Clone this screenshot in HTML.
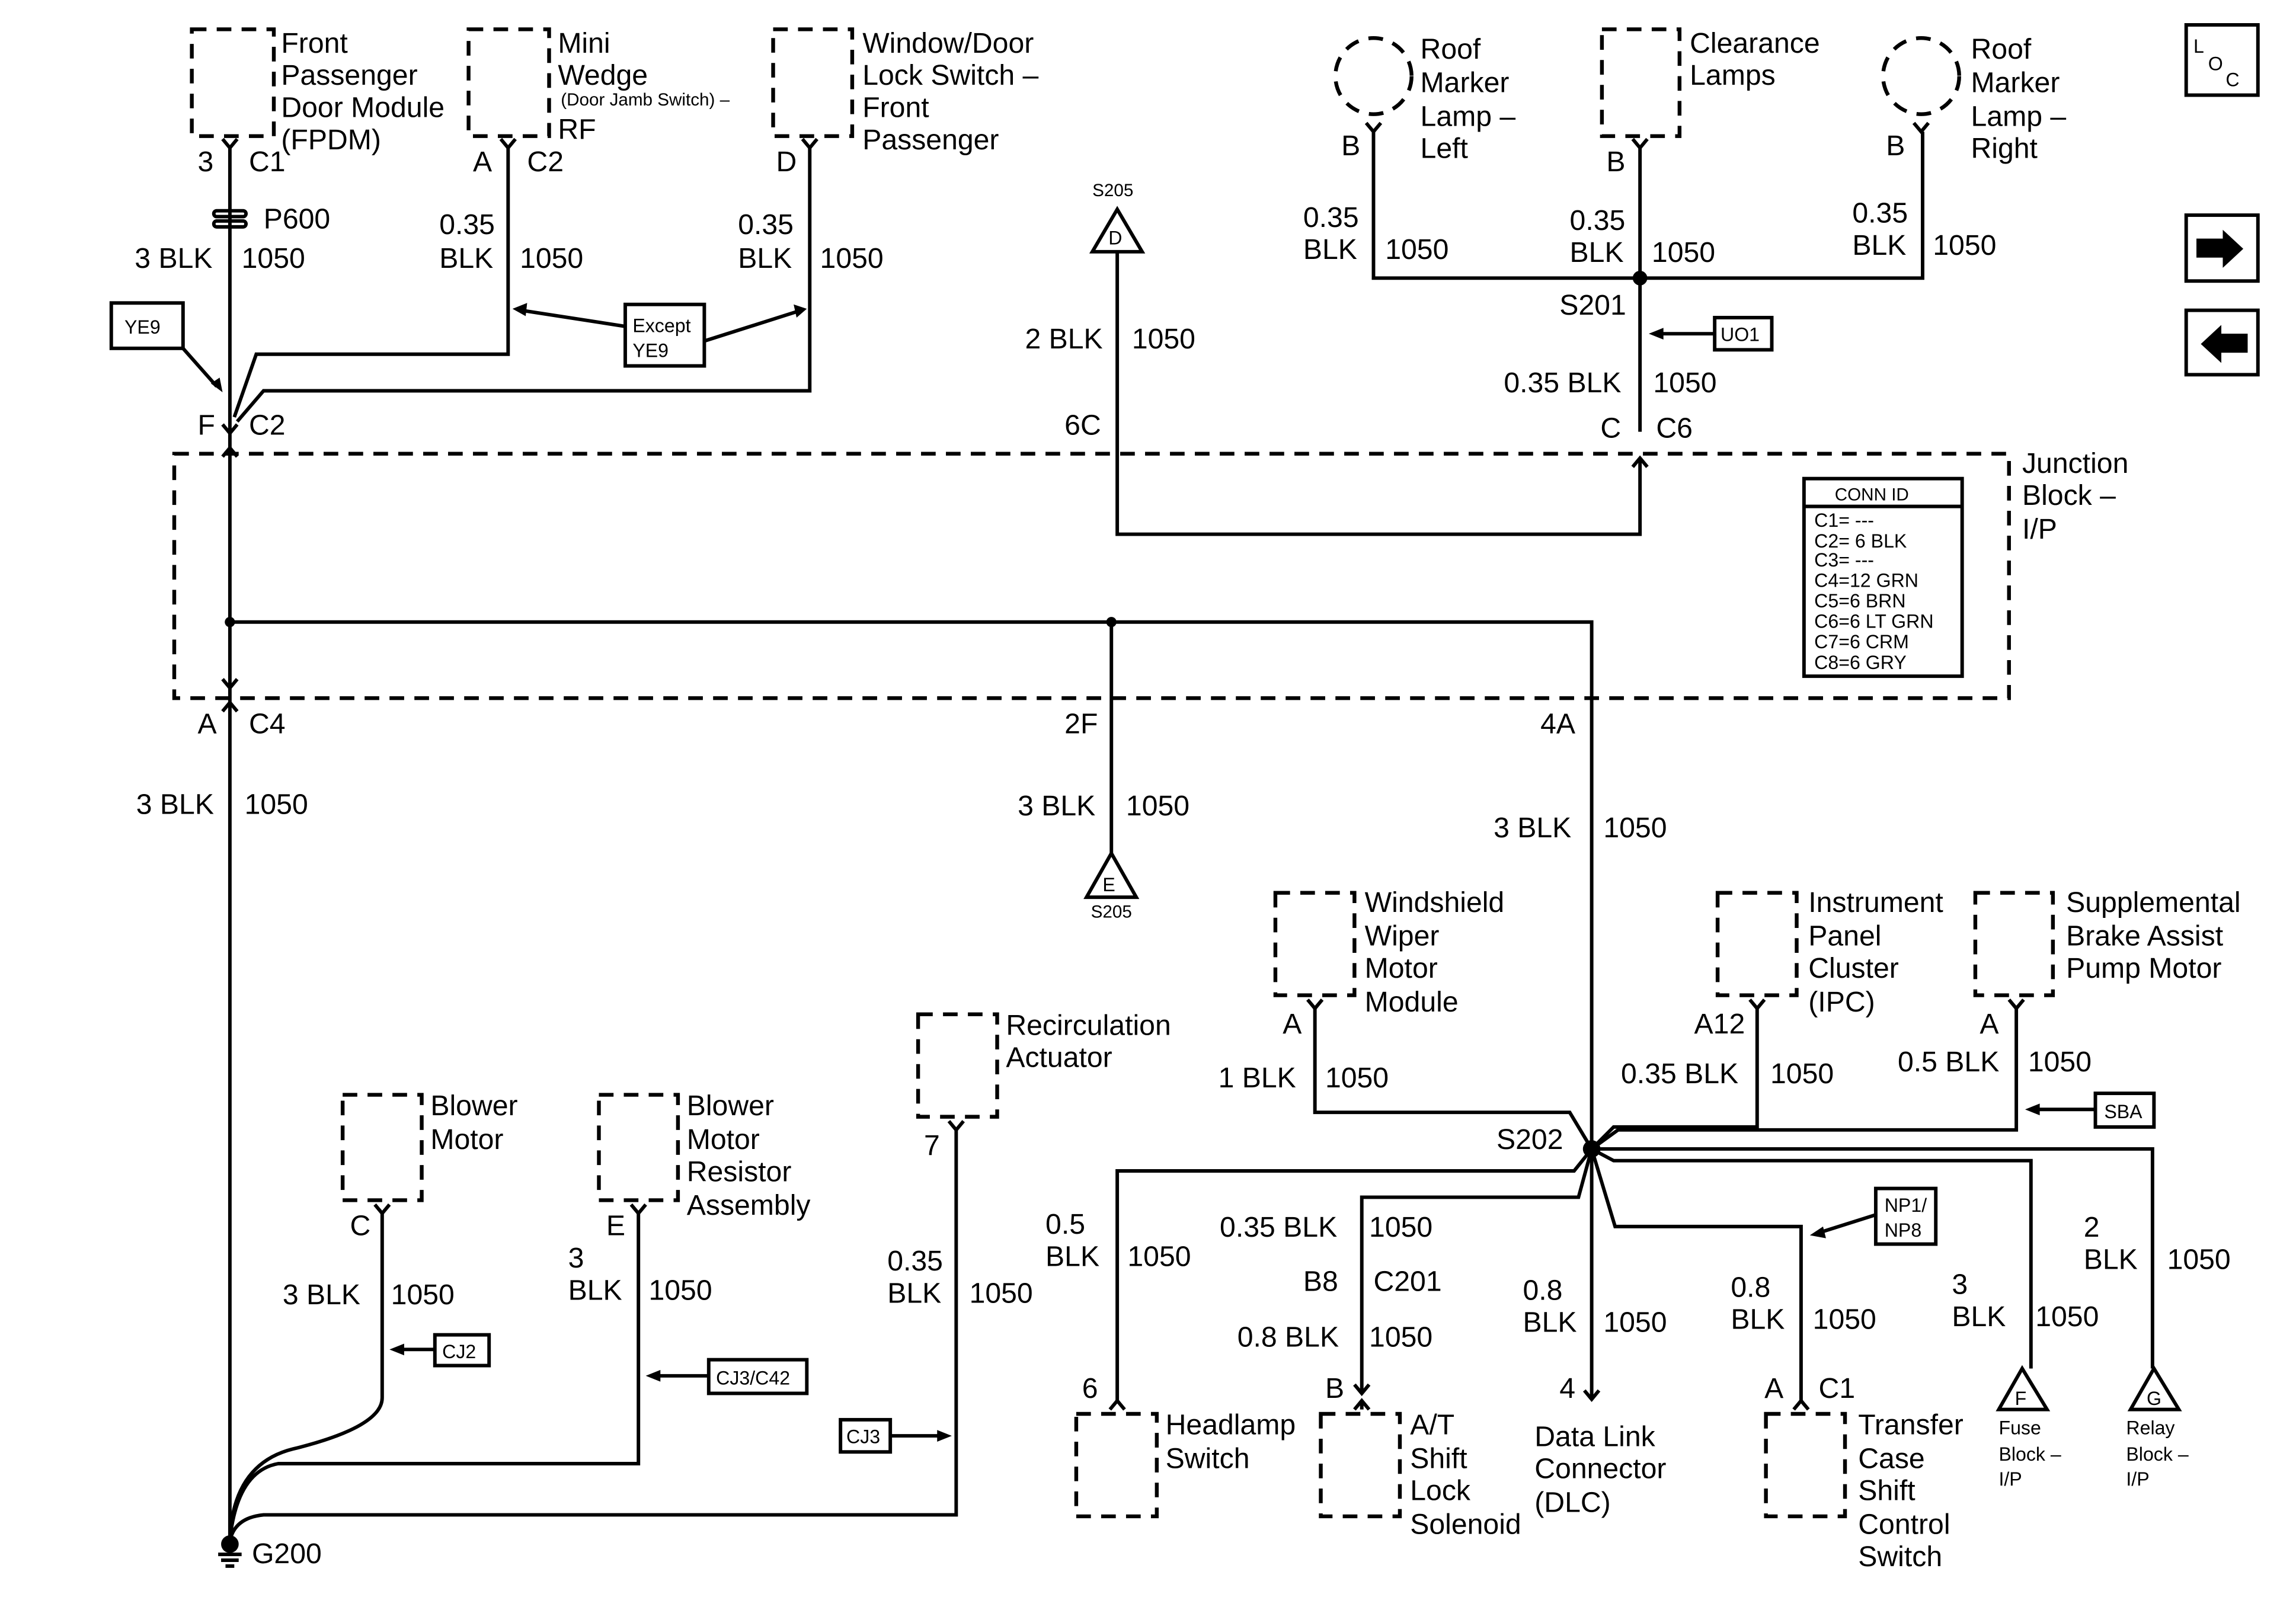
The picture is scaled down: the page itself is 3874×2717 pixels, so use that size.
<!DOCTYPE html>
<html><head><meta charset="utf-8"><style>
html,body{margin:0;padding:0;background:#fff;}
svg{display:block;}
text{font-family:"Liberation Sans",Arial,sans-serif;font-size:19.5px;fill:#000;}
.s{font-size:13px;}
.xs{font-size:12px;}
</style></head><body>
<svg width="3874" height="2717" viewBox="0 0 1568 1100" preserveAspectRatio="none" xmlns="http://www.w3.org/2000/svg">
<rect width="1600" height="1120" fill="#fff"/>
<g fill="none" stroke="#000" stroke-width="2.4">
<g stroke-dasharray="10,7" stroke-width="2.6">
<rect x="131" y="20" width="56" height="73"/>
<rect x="320" y="20" width="55" height="73"/>
<rect x="528" y="20" width="54" height="73"/>
<circle cx="938" cy="52" r="26"/>
<rect x="1094" y="20" width="53" height="73"/>
<circle cx="1312" cy="52" r="26"/>
<rect x="119" y="310" width="1253" height="167"/>
<rect x="871" y="610" width="54" height="70"/>
<rect x="1173" y="610" width="54" height="70"/>
<rect x="1349" y="610" width="53" height="70"/>
<rect x="234" y="748" width="54" height="72"/>
<rect x="409" y="748" width="54" height="72"/>
<rect x="627" y="693" width="54" height="70"/>
<rect x="735" y="966" width="55" height="70"/>
<rect x="902" y="966" width="54" height="70"/>
<rect x="1206" y="966" width="54" height="70"/>
</g>
<g>
<path d="M152,95 L157,101 L162,95"/><path d="M342,95 L347,101 L352,95"/><path d="M548,95 L553,101 L558,95"/>
<path d="M933,84 L938,90 L943,84"/><path d="M1115,95 L1120,101 L1125,95"/><path d="M1307,84 L1312,90 L1317,84"/>
<path d="M893,683 L898,689 L903,683"/><path d="M1195,683 L1200,689 L1205,683"/><path d="M1372,683 L1377,689 L1382,683"/>
<path d="M256,823 L261,829 L266,823"/><path d="M431,823 L436,829 L441,823"/><path d="M648,766 L653,772 L658,766"/>
<path d="M152,290 L157,296 L162,290"/><path d="M152,312 L157,306 L162,312"/>
<path d="M1115,319 L1120,313 L1125,319"/>
<path d="M152,464 L157,470 L162,464"/><path d="M152,486 L157,480 L162,486"/>
<path d="M758,963 L763,957 L768,963"/><path d="M925,963 L930,957 L935,963"/><path d="M925,946 L930,952 L935,946"/>
<path d="M1225,963 L1230,957 L1235,963"/><path d="M1082,950 L1087,956 L1092,950"/>
</g>
<path d="M157,101 V1055"/>
<path d="M347,101 V242 H175 L160,285"/>
<path d="M553,101 V267 H180 L162,288"/>
<path d="M763,172 V365 H1120 V313"/>
<path d="M938,90 V190 H1313 V90"/>
<path d="M1120,101 V295"/>
<path d="M157,425 H1087 V785"/>
<path d="M759,425 V583"/>
<path d="M898,689 V760 H1072 L1087,785"/>
<path d="M1200,689 V770 H1102 L1087,785"/>
<path d="M1377,689 V772 H1105 L1087,785"/>
<path d="M1087,785 L1075,800 H763 V957"/>
<path d="M1087,785 L1078,818 H930 V952"/>
<path d="M930,957 V963"/>
<path d="M1087,785 V956"/>
<path d="M1087,785 L1103,838 H1230 V957"/>
<path d="M1087,785 L1102,793 H1387 V935"/>
<path d="M1087,785 H1470 V935"/>
<path d="M261,829 V955 Q261,975 200,990 Q160,1000 157,1050"/>
<path d="M436,829 V1000 H190 Q162,1005 157,1052"/>
<path d="M653,772 V1035 H180 Q160,1037 157,1053"/>
<rect x="146" y="144" width="22" height="4" rx="2"/><rect x="146" y="151" width="22" height="4" rx="2"/>
<path d="M763,143 L746,172 H780 Z"/>
<path d="M759,583 L742,613 H776 Z"/>
<path d="M1381,935 L1365,963 H1398 Z"/>
<path d="M1471,935 L1455,963 H1488 Z"/>
<rect x="76" y="207" width="49" height="31"/>
<rect x="427" y="208" width="54" height="42"/>
<rect x="1171" y="217" width="39" height="22"/>
<rect x="1431" y="747" width="40" height="23"/>
<rect x="1281" y="812" width="41" height="38"/>
<rect x="297" y="912" width="37" height="21"/>
<rect x="484" y="929" width="67" height="23"/>
<rect x="574" y="970" width="34" height="22"/>
<rect x="1232" y="327" width="108" height="135"/><path d="M1232,346 H1340"/>
<path d="M125,238 L148,264"/>
<path d="M427,223 L356,212"/><path d="M481,233 L544,213"/>
<path d="M1171,228 H1132"/>
<path d="M1431,758 H1390"/>
<path d="M1281,830 L1243,842"/>
<path d="M297,922 H272"/>
<path d="M484,940 H448"/>
<path d="M608,981 H643"/>
<rect x="1493" y="17" width="49" height="48"/>
<rect x="1493" y="147" width="49" height="45"/>
<rect x="1493" y="212" width="49" height="44"/>
<path d="M149,1062 H165 M151,1066 H163 M154,1070 H160"/>
</g>
<g fill="#000">
<path d="M152,268 L144,262 L150,258 Z"/>
<path d="M350,211 L360,207 L359,216 Z"/>
<path d="M551,211 L542,208 L544,217 Z"/>
<path d="M1126,228 L1136,224 L1136,232 Z"/>
<path d="M1383,758 L1393,754 L1393,762 Z"/>
<path d="M1236,844 L1245,838 L1247,846 Z"/>
<path d="M266,922 L276,918 L276,926 Z"/>
<path d="M441,940 L451,936 L451,944 Z"/>
<path d="M650,981 L640,977 L640,985 Z"/>
<circle cx="1120" cy="190" r="5"/><circle cx="157" cy="425" r="3.5"/><circle cx="759" cy="425" r="3.5"/>
<circle cx="1087" cy="785" r="6"/><circle cx="157" cy="1055" r="6"/>
<path d="M1500,163 H1518 V157 L1532,170 L1518,183 V176 H1500 Z"/>
<path d="M1535,228 H1517 V222 L1503,235 L1517,248 V241 H1535 Z"/>
</g>
<text x="192" y="36">Front</text><text x="192" y="58">Passenger</text><text x="192" y="80">Door Module</text><text x="192" y="102">(FPDM)</text>
<text x="135" y="117">3</text><text x="170" y="117">C1</text>
<text x="180" y="156">P600</text>
<text x="92" y="183">3 BLK</text><text x="165" y="183">1050</text>
<text x="85" y="228" class="s">YE9</text>
<text x="135" y="297">F</text><text x="170" y="297">C2</text>
<text x="381" y="36">Mini</text><text x="381" y="58">Wedge</text><text x="383" y="72" class="xs">(Door Jamb Switch) –</text><text x="381" y="95">RF</text>
<text x="323" y="117">A</text><text x="360" y="117">C2</text>
<text x="300" y="160">0.35</text><text x="300" y="183">BLK</text><text x="355" y="183">1050</text>
<text x="589" y="36">Window/Door</text><text x="589" y="58">Lock Switch –</text><text x="589" y="80">Front</text><text x="589" y="102">Passenger</text>
<text x="530" y="117">D</text>
<text x="504" y="160">0.35</text><text x="504" y="183">BLK</text><text x="560" y="183">1050</text>
<text x="432" y="227" class="s">Except</text><text x="432" y="244" class="s">YE9</text>
<text x="746" y="134" class="xs">S205</text><text x="757" y="167" class="s">D</text>
<text x="700" y="238">2 BLK</text><text x="773" y="238">1050</text>
<text x="727" y="297">6C</text>
<text x="970" y="40">Roof</text><text x="970" y="63">Marker</text><text x="970" y="86">Lamp –</text><text x="970" y="108">Left</text>
<text x="916" y="106">B</text>
<text x="890" y="155">0.35</text><text x="890" y="177">BLK</text><text x="946" y="177">1050</text>
<text x="1154" y="36">Clearance</text><text x="1154" y="58">Lamps</text>
<text x="1097" y="117">B</text>
<text x="1072" y="157">0.35</text><text x="1072" y="179">BLK</text><text x="1128" y="179">1050</text>
<text x="1065" y="215">S201</text>
<text x="1175" y="233" class="s">UO1</text>
<text x="1346" y="40">Roof</text><text x="1346" y="63">Marker</text><text x="1346" y="86">Lamp –</text><text x="1346" y="108">Right</text>
<text x="1288" y="106">B</text>
<text x="1265" y="152">0.35</text><text x="1265" y="174">BLK</text><text x="1320" y="174">1050</text>
<text x="1027" y="268">0.35 BLK</text><text x="1129" y="268">1050</text>
<text x="1093" y="299">C</text><text x="1131" y="299">C6</text>
<text x="1381" y="323">Junction</text><text x="1381" y="345">Block –</text><text x="1381" y="368">I/P</text>
<text x="1253" y="342" class="xs">CONN ID</text>
<text x="1239" y="360" class="s">C1= ---</text><text x="1239" y="374" class="s">C2= 6 BLK</text><text x="1239" y="387" class="s">C3= ---</text><text x="1239" y="401" class="s">C4=12 GRN</text><text x="1239" y="415" class="s">C5=6 BRN</text><text x="1239" y="429" class="s">C6=6 LT GRN</text><text x="1239" y="443" class="s">C7=6 CRM</text><text x="1239" y="457" class="s">C8=6 GRY</text>
<text x="135" y="501">A</text><text x="170" y="501">C4</text><text x="727" y="501">2F</text><text x="1052" y="501">4A</text>
<text x="93" y="556">3 BLK</text><text x="167" y="556">1050</text>
<text x="695" y="557">3 BLK</text><text x="769" y="557">1050</text>
<text x="753" y="609" class="s">E</text><text x="745" y="627" class="xs">S205</text>
<text x="1020" y="572">3 BLK</text><text x="1095" y="572">1050</text>
<text x="932" y="623">Windshield</text><text x="932" y="646">Wiper</text><text x="932" y="668">Motor</text><text x="932" y="691">Module</text>
<text x="876" y="706">A</text><text x="832" y="743">1 BLK</text><text x="905" y="743">1050</text>
<text x="1235" y="623">Instrument</text><text x="1235" y="646">Panel</text><text x="1235" y="668">Cluster</text><text x="1235" y="691">(IPC)</text>
<text x="1157" y="706">A12</text><text x="1107" y="740">0.35 BLK</text><text x="1209" y="740">1050</text>
<text x="1411" y="623">Supplemental</text><text x="1411" y="646">Brake Assist</text><text x="1411" y="668">Pump Motor</text>
<text x="1352" y="706">A</text><text x="1296" y="732">0.5 BLK</text><text x="1385" y="732">1050</text>
<text x="1437" y="764" class="s">SBA</text>
<text x="1022" y="785">S202</text>
<text x="714" y="843">0.5</text><text x="714" y="865">BLK</text><text x="770" y="865">1050</text>
<text x="833" y="845">0.35 BLK</text><text x="935" y="845">1050</text>
<text x="890" y="882">B8</text><text x="938" y="882">C201</text>
<text x="845" y="920">0.8 BLK</text><text x="935" y="920">1050</text>
<text x="1040" y="888">0.8</text><text x="1040" y="910">BLK</text><text x="1095" y="910">1050</text>
<text x="1065" y="955">4</text>
<text x="1182" y="886">0.8</text><text x="1182" y="908">BLK</text><text x="1238" y="908">1050</text>
<text x="1287" y="828" class="s">NP1/</text><text x="1287" y="845" class="s">NP8</text>
<text x="1333" y="884">3</text><text x="1333" y="906">BLK</text><text x="1390" y="906">1050</text>
<text x="1423" y="845">2</text><text x="1423" y="867">BLK</text><text x="1480" y="867">1050</text>
<text x="739" y="955">6</text><text x="905" y="955">B</text><text x="1205" y="955">A</text><text x="1242" y="955">C1</text>
<text x="796" y="980">Headlamp</text><text x="796" y="1003">Switch</text>
<text x="963" y="980">A/T</text><text x="963" y="1003">Shift</text><text x="963" y="1025">Lock</text><text x="963" y="1048">Solenoid</text>
<text x="1048" y="988">Data Link</text><text x="1048" y="1010">Connector</text><text x="1048" y="1033">(DLC)</text>
<text x="1269" y="980">Transfer</text><text x="1269" y="1003">Case</text><text x="1269" y="1025">Shift</text><text x="1269" y="1048">Control</text><text x="1269" y="1070">Switch</text>
<text x="1376" y="960" class="s">F</text><text x="1365" y="980" class="s">Fuse</text><text x="1365" y="998" class="s">Block –</text><text x="1365" y="1015" class="s">I/P</text>
<text x="1466" y="960" class="s">G</text><text x="1452" y="980" class="s">Relay</text><text x="1452" y="998" class="s">Block –</text><text x="1452" y="1015" class="s">I/P</text>
<text x="294" y="762">Blower</text><text x="294" y="785">Motor</text>
<text x="239" y="844">C</text><text x="193" y="891">3 BLK</text><text x="267" y="891">1050</text>
<text x="302" y="928" class="s">CJ2</text>
<text x="469" y="762">Blower</text><text x="469" y="785">Motor</text><text x="469" y="807">Resistor</text><text x="469" y="830">Assembly</text>
<text x="414" y="844">E</text><text x="388" y="866">3</text><text x="388" y="888">BLK</text><text x="443" y="888">1050</text>
<text x="489" y="946" class="s">CJ3/C42</text>
<text x="687" y="707">Recirculation</text><text x="687" y="729">Actuator</text>
<text x="631" y="789">7</text><text x="606" y="868">0.35</text><text x="606" y="890">BLK</text><text x="662" y="890">1050</text>
<text x="578" y="986" class="s">CJ3</text>
<text x="172" y="1068">G200</text>
<text x="1498" y="36" class="s">L</text><text x="1508" y="48" class="s">O</text><text x="1520" y="59" class="s">C</text>
</svg>
</body></html>
